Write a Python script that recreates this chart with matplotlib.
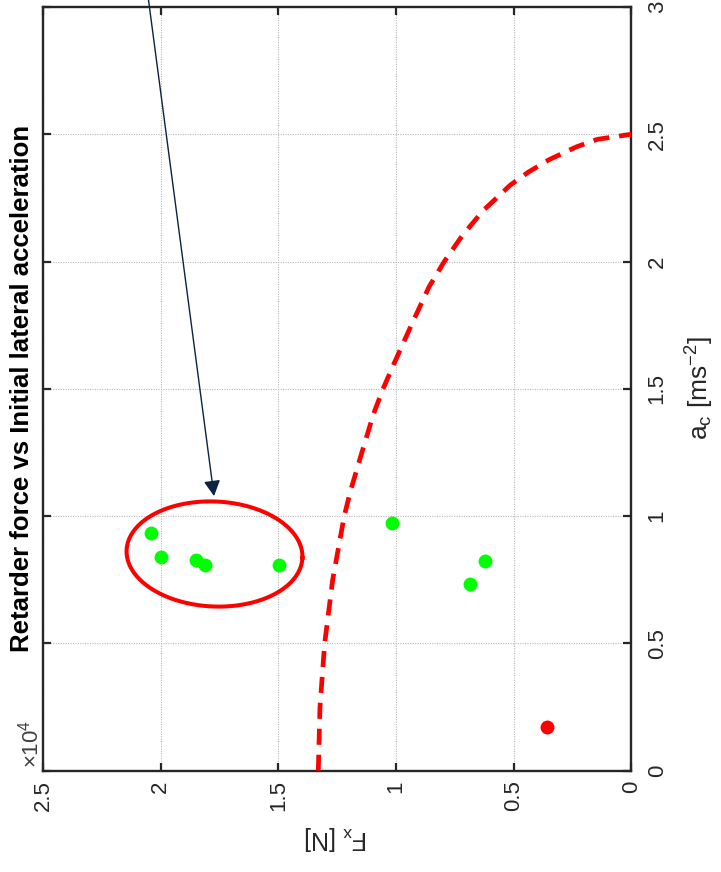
import numpy as np
import matplotlib
matplotlib.use('Agg')
import matplotlib.pyplot as plt

plt.rcParams['font.family'] = ['Liberation Sans', 'DejaVu Sans']
plt.rcParams['mathtext.fontset'] = 'custom'
plt.rcParams['mathtext.rm'] = 'Liberation Sans'
plt.rcParams['mathtext.it'] = 'Liberation Sans'

# ------- dados -------#
# pontos verdes (F_x em N, a_c em m/s^2)
fx_verde = [20420, 19970, 18500, 18110, 14970, 10170, 6210, 6860]
ac_verde = [0.935, 0.840, 0.828, 0.807, 0.807, 0.972, 0.823, 0.735]

# ponto vermelho
fx_vermelho = [3590]
ac_vermelho = [0.172]

# curva limite (tracejada)
ac_limite = [0, 0.25, 0.5, 0.75, 1.0, 1.1, 1.25, 1.4, 1.5, 1.6, 1.75, 1.9, 2.0, 2.1,
             2.2, 2.3, 2.35, 2.4, 2.45, 2.48, 2.5]
fx_limite = [13300, 13230, 13030, 12690, 12200, 11930, 11450, 10960, 10550, 10080,
             9350, 8600, 7950, 7200, 6300, 5150, 4400, 3500, 2350, 1450, 0]

# ticks
fx_ticks = [0, 5000, 10000, 15000, 20000, 25000]
fx_rotulos = ['0', '0.5', '1', '1.5', '2', '2.5']
ac_ticks = [0, 0.5, 1, 1.5, 2, 2.5, 3]
ac_rotulos = ['0', '0.5', '1', '1.5', '2', '2.5', '3']

cor_eixo = '#262626'

fig = plt.figure(figsize=(7.21, 8.72), dpi=100)
ax = fig.add_axes([0.0595, 0.1161, 0.8162, 0.8759])

ax.plot(fx_limite, ac_limite, color='#ff0000', lw=3.4, dashes=(3.4, 2.1),
        solid_capstyle='butt', dash_capstyle='butt', zorder=3)
ax.plot(fx_verde, ac_verde, 'o', color='#00ff00', ms=10, mec='none', zorder=4)
ax.plot(fx_vermelho, ac_vermelho, 'o', color='#ff0000', ms=10, mec='none', zorder=4)

ax.set_xlim(25000, 0)
ax.set_ylim(0, 3)

ax.set_xticks(fx_ticks, labels=fx_rotulos, rotation=90, ha='center', va='top')
ax.set_yticks(ac_ticks, labels=ac_rotulos, rotation=90, ha='left', va='center')

ax.tick_params(direction='in', length=5.5, width=1.6, top=True, bottom=True,
               left=True, right=True, labelleft=False, labelright=True,
               labelsize=16, colors=cor_eixo)
ax.tick_params(axis='y', pad=11)
ax.tick_params(axis='x', pad=7)

for sp in ax.spines.values():
    sp.set_linewidth(1.7)
    sp.set_color(cor_eixo)

ax.grid(True, color='#b8b8b8', lw=0.8, dashes=(1, 1.2))
ax.set_axisbelow(True)

# elipse destacando o grupo (em pixels do eixo, com leve inclinação)
larg_px = 0.8162 * 721
alt_px = 0.8759 * 872
t = np.linspace(0, 2 * np.pi, 200)
ang = np.deg2rad(-2.6)
dx = 88 * np.cos(t) * np.cos(ang) - 52.5 * np.sin(t) * np.sin(ang)
dy = 88 * np.cos(t) * np.sin(ang) + 52.5 * np.sin(t) * np.cos(ang)
cx, cy = 0.2916, 0.2838
ax.plot(cx + dx / larg_px, cy + dy / alt_px, color='#ff0000', lw=2.9,
        transform=ax.transAxes, zorder=5)

# seta
ax.annotate('', xy=(17730, 1.079), xytext=(20560, 3.06),
            arrowprops=dict(arrowstyle='-|>,head_length=0.47,head_width=0.25',
                            mutation_scale=20, color='#0d2342', lw=1.0,
                            shrinkA=0, shrinkB=0),
            annotation_clip=False, zorder=6)

# textos
fig.text(0.031, 0.554, 'Retarder force vs Initial lateral acceleration',
         rotation=90, fontsize=18.5, fontweight='bold', ha='center', va='center',
         color='black')
fig.text(700 / 721, 1 - 388 / 872, r'a$_{c}$ [ms$^{-2}$]', rotation=90,
         fontsize=19, ha='center', va='center', color=cor_eixo)
fig.text(336 / 721, 1 - 838 / 872, r'F$_{x}$ [N]', rotation=180,
         fontsize=18, ha='center', va='center', color=cor_eixo)
fig.text(31 / 721, 1 - 768 / 872, '×10$^{4}$', rotation=90, fontsize=16,
         ha='center', va='bottom', color='#404040')

fig.savefig('out.png', dpi=100)
